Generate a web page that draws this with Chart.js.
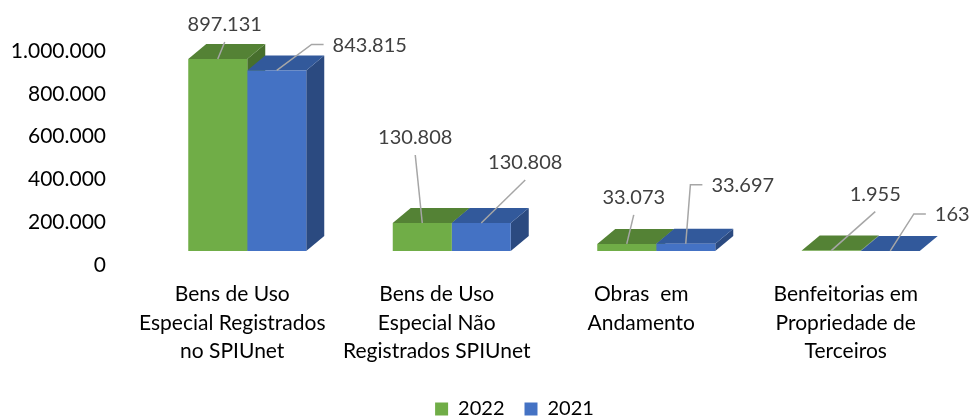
<!DOCTYPE html>
<html>
<head>
<meta charset="utf-8">
<script src="https://cdn.jsdelivr.net/npm/chart.js@4.4.0/dist/chart.umd.min.js"></script>
<style>
body { margin: 0; background: #fff; }
</style>
</head>
<body>
<canvas id="grafico" width="979" height="417"></canvas>
<script>
const categorias = [
    ['Bens de Uso', 'Especial Registrados', 'no SPIUnet'],
    ['Bens de Uso', 'Especial Não', 'Registrados SPIUnet'],
    ['Obras  em', 'Andamento'],
    ['Benfeitorias em', 'Propriedade de', 'Terceiros']
]
const anos = ['2022', '2021']
const valores2022 = [897131, 130808, 33073, 1955]
const valores2021 = [843815, 130808, 33697, 163]
const ticksY = [0, 200000, 400000, 600000, 800000, 1000000]

// onde fica cada rotulo em relacao ao topo da barra: dx, dy, tipo de linha
const posRotulo2022 = [[7, -34, 'baixo'], [-7, -85, 'baixo'], [7, -46, 'baixo'], [44, -56, 'baixo']]
const posRotulo2021 = [[93, -25, 'lado'], [44, -60, 'baixo'], [57, -58, 'lado'], [62, -36, 'lado']]

const fonte = 'Lato'
const profX = 18
const profY = 15

function formata(v){
    return String(v).replace(/\B(?=(\d{3})+(?!\d))/g, '.')
}

// desenha topo e lateral de cada barra (efeito 3D)
const barras3d = {
    id: 'barras3d',
    beforeDatasetsDraw(chart){
        const ctx = chart.ctx
        const nCat = chart.data.labels.length
        ctx.save()
        for (let j = 0; j < nCat; j++) {
            chart.data.datasets.forEach(function(ds, i){
                const el = chart.getDatasetMeta(i).data[j]
                const p = el.getProps(['x', 'y', 'base', 'width'], true)
                const esq = p.x - p.width / 2
                const dir = p.x + p.width / 2
                // lateral
                ctx.fillStyle = ds.corLado
                ctx.beginPath()
                ctx.moveTo(dir, p.y)
                ctx.lineTo(dir + profX, p.y - profY)
                ctx.lineTo(dir + profX, p.base - profY)
                ctx.lineTo(dir, p.base)
                ctx.closePath()
                ctx.fill()
                // topo
                ctx.fillStyle = ds.corTopo
                ctx.beginPath()
                ctx.moveTo(esq, p.y)
                ctx.lineTo(esq + profX, p.y - profY)
                ctx.lineTo(dir + profX, p.y - profY)
                ctx.lineTo(dir, p.y)
                ctx.closePath()
                ctx.fill()
            })
        }
        ctx.restore()
    }
}

// rotulos de valor com linha de chamada
const rotulos = {
    id: 'rotulos',
    afterDatasetsDraw(chart){
        const ctx = chart.ctx
        ctx.save()
        ctx.font = '20px ' + fonte
        ctx.textAlign = 'center'
        ctx.textBaseline = 'middle'
        chart.data.datasets.forEach(function(ds, i){
            chart.getDatasetMeta(i).data.forEach(function(el, j){
                const p = el.getProps(['x', 'y'], true)
                const pos = ds.rotulos[j]
                const tx = p.x + pos[0]
                const ty = p.y + pos[1]
                const texto = formata(ds.data[j])
                const larg = ctx.measureText(texto).width
                ctx.strokeStyle = '#a6a6a6'
                ctx.lineWidth = 1.5
                ctx.beginPath()
                ctx.moveTo(p.x, p.y)
                if (pos[2] == 'lado') {
                    const esq = tx - larg / 2
                    ctx.lineTo(esq - 21, ty - 1)
                    ctx.lineTo(esq - 9, ty - 1)
                } else {
                    ctx.lineTo(tx, ty + 17)
                }
                ctx.stroke()
                ctx.fillStyle = '#404040'
                ctx.fillText(texto, tx, ty)
            })
        })
        ctx.restore()
    }
}

// a legenda do original fica um pouco a direita e mais abaixo
const deslocaLegenda = {
    id: 'deslocaLegenda',
    afterLayout(chart){
        const leg = chart.legend
        const dy = 379 - leg.top
        leg.left += 33
        leg.right += 33
        leg.top += dy
        leg.bottom += dy
    }
}

const grafico = new Chart(document.getElementById('grafico'), {
    type: 'bar',
    data: {
        labels: categorias,
        datasets: [
            {
                label: anos[0],
                data: valores2022,
                backgroundColor: '#70AD47',
                corTopo: '#548235',
                corLado: '#476f2d',
                rotulos: posRotulo2022
            },
            {
                label: anos[1],
                data: valores2021,
                backgroundColor: '#4472C4',
                corTopo: '#32599b',
                corLado: '#2b4a80',
                rotulos: posRotulo2021
            }
        ]
    },
    options: {
        responsive: false,
        animation: false,
        categoryPercentage: 0.577,
        barPercentage: 1,
        layout: {
            padding: { top: 37, right: 16, left: 0, bottom: 0 }
        },
        scales: {
            x: {
                grid: { display: false, drawTicks: false },
                border: { display: false },
                ticks: {
                    font: { family: fonte, size: 21, lineHeight: 1.36 },
                    color: '#000',
                    padding: 29,
                    labelOffset: -15,
                    maxRotation: 0,
                    autoSkip: false
                },
                afterFit: function(s){ s.height = 116 }
            },
            y: {
                min: ticksY[0],
                max: ticksY[ticksY.length - 1],
                grid: { display: false, drawTicks: false },
                border: { display: false },
                afterBuildTicks: function(s){
                    s.ticks = ticksY.map(function(v){ return { value: v } })
                },
                ticks: {
                    callback: function(v){ return formata(v) },
                    font: { family: fonte, size: 21 },
                    color: '#000',
                    padding: 39,
                    labelOffset: 14
                },
                afterFit: function(s){
                    s.width = 145
                    s.paddingTop = 0
                    s.paddingBottom = 0
                }
            }
        },
        plugins: {
            legend: {
                position: 'bottom',
                labels: {
                    boxWidth: 13,
                    boxHeight: 13,
                    padding: 20,
                    color: '#000',
                    font: { family: fonte, size: 20 }
                }
            },
            tooltip: { enabled: false }
        }
    },
    plugins: [barras3d, rotulos, deslocaLegenda]
})
</script>
</body>
</html>
